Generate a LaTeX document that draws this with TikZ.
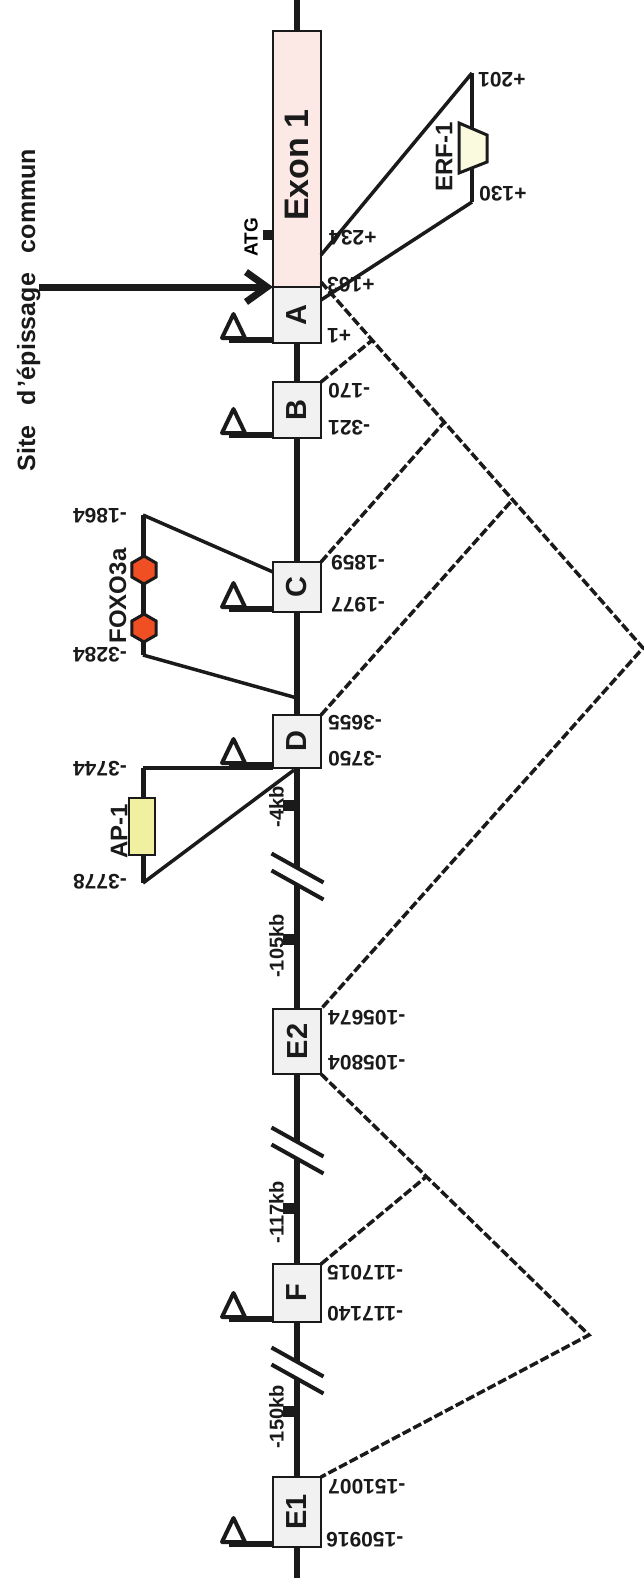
\documentclass[tikz,border=0pt]{standalone}
\usepackage{fontspec}
\setmainfont{Liberation Sans}
\usetikzlibrary{arrows.meta,calc}
\definecolor{ink}{HTML}{1A1A1A}
\definecolor{exonpink}{RGB}{252,233,229}
\definecolor{boxgray}{RGB}{241,241,241}
\definecolor{foxo}{RGB}{240,78,35}
\definecolor{apyellow}{RGB}{240,240,160}
\definecolor{erfyellow}{RGB}{250,250,222}
\newcommand{\tssflag}[1]{%
  \draw[flagline] ($(#1.south west)+(0,-3)$) -- ++(-44,0);
  \draw[flagtri] ($(#1.south west)+(-51,-5)$) -- ++(11.5,-24) -- ++(11.5,24) -- cycle;}
\begin{document}
\begin{tikzpicture}[x=1pt,y=-1pt,
  gene/.style={draw=ink, line width=6.5pt},
  slash/.style={draw=ink, line width=4pt},
  exonbox/.style={draw=ink, line width=2.5pt, fill=boxgray, minimum width=48pt, inner sep=0pt, outer sep=0pt},
  boxlabel/.style={rotate=90, font=\bfseries\fontsize{29}{29}\selectfont, text=ink, inner sep=0pt},
  poslabel/.style={rotate=180, font=\bfseries\fontsize{21}{21}\selectfont, text=ink, inner sep=0pt},
  kblabel/.style={rotate=90, anchor=south, font=\bfseries\fontsize{20}{20}\selectfont, text=ink, inner sep=0pt},
  tflabel/.style={rotate=90, font=\bfseries\fontsize{24}{24}\selectfont, text=ink, inner sep=0pt},
  splice/.style={draw=ink, line width=3.5pt, dash pattern=on 9pt off 3pt},
  tfline/.style={draw=ink, line width=3.5pt},
  bracket/.style={draw=ink, line width=5pt},
  flagline/.style={draw=ink, line width=6pt},
  flagtri/.style={draw=ink, line width=4pt, line join=round}
]
\useasboundingbox (0,0) rectangle (644,1588);

% main genomic line with breaks
\coordinate (top) at (297,0);
\coordinate (bot) at (297,1578);
\coordinate (b1a) at (297,868); \coordinate (b1b) at (297,885);
\coordinate (b2a) at (297,1142); \coordinate (b2b) at (297,1159);
\coordinate (b3a) at (297,1362); \coordinate (b3b) at (297,1379);
\draw[gene] (top) -- (b1a);
\draw[gene] (b1b) -- (b2a);
\draw[gene] (b2b) -- (b3a);
\draw[gene] (b3b) -- (bot);
\foreach \c in {868,885,1142,1159,1362,1379}
  \draw[slash] (271.5,\c-14.5) -- (323.5,\c+14.5);

% kb ticks
\foreach \y in {805,939,1208,1411}
  \fill[ink] (283,\y-5.5) rectangle (297,\y+5.5);
\node[kblabel] (kb4) at (284,807) {-4kb};
\node[kblabel] (kb105) at (284,946) {-105kb};
\node[kblabel] (kb117) at (284,1212) {-117kb};
\node[kblabel] (kb150) at (284,1417) {-150kb};

% exon boxes
\node[exonbox, fill=exonpink, minimum height=256pt] (Exon1) at (297,159) {};
\node[exonbox, minimum height=56pt] (A) at (297,315) {};
\node[exonbox, minimum height=56pt] (B) at (297,410) {};
\node[exonbox, minimum height=50pt] (C) at (297,587) {};
\node[exonbox, minimum height=53pt] (D) at (297,741.5) {};
\node[exonbox, minimum height=65pt] (E2) at (297,1041.5) {};
\node[exonbox, minimum height=58pt] (F) at (297,1293) {};
\node[exonbox, minimum height=70pt] (E1) at (297,1512) {};

\node[boxlabel, font=\bfseries\fontsize{34}{34}\selectfont] (tEx) at (297,165) {Exon 1};
\node[boxlabel] (tA) at (A) {A};
\node[boxlabel] (tB) at (B) {B};
\node[boxlabel] (tC) at (C) {C};
\node[boxlabel] (tD) at (D) {D};
\node[boxlabel] (tE2) at (E2) {E2};
\node[boxlabel] (tF) at (F) {F};
\node[boxlabel] (tE1) at (E1) {E1};

% ATG
\fill[ink] (263,230) rectangle (273,240);
\node[rotate=90, anchor=south, font=\bfseries\fontsize{19}{19}\selectfont, inner sep=0pt] (atg) at (258,237) {ATG};

% common splice site arrow
\coordinate (arrstart) at (39,287);
\draw[draw=ink, line width=7pt, -{Straight Barb[length=21pt,width=30pt]}] (arrstart) -- (A.north west);
\node[rotate=90, anchor=base, font=\bfseries\fontsize{25}{25}\selectfont, text=ink, inner sep=0pt] (site) at (35,310)
  {Site\hspace{20pt}d\hspace{3pt}’épissage\hspace{20pt}commun};

% splicing (dashed)
\coordinate (sA) at ($(A.north east)+(0,-5)$);
\coordinate (apex1) at (643,648);
\coordinate (apex2) at (589,1335);
\draw[splice] (sA) -- (apex1) -- (E2.north east);
\draw[splice] (B.north east) -- ($(sA)!0.159!(apex1)$);
\draw[splice] (C.north east) -- ($(sA)!0.383!(apex1)$);
\draw[splice] (D.north east) -- ($(sA)!0.595!(apex1)$);
\draw[splice] (E2.south east) -- (apex2) -- (E1.north east);
\draw[splice] (F.north east) -- ($(E2.south east)!0.393!(apex2)$);

% ERF-1
\coordinate (erfT) at (472,73);
\coordinate (erfB) at (472,202);
\draw[draw=ink, line width=4pt] (erfT) -- (erfB);
\draw[tfline] (erfT) -- ($(Exon1.south east)+(0,-32)$);
\draw[tfline] (erfB) -- ($(A.north east)+(0,13)$);
\draw[draw=ink, line width=3pt, fill=erfyellow, line join=miter] (459,123) -- (487,135) -- (487,162) -- (459,173) -- cycle;
\node[tflabel] (erf) at (444,157) {ERF-1};
\node[poslabel, anchor=east] (p201) at (478,80) {+201};
\node[poslabel, anchor=east] (p130) at (479,194) {+130};

% FOXO3a
\coordinate (foxT) at (143,515);
\coordinate (foxB) at (143,655);
\coordinate (foxM) at (297,698);
\draw[bracket] (foxT) -- (foxB);
\draw[tfline] (foxT) -- ($(C.north west)+(0,10)$);
\draw[tfline] (foxB) -- (foxM);
\foreach \y in {570,628}
  \draw[draw=ink, line width=3pt, fill=foxo] (144,\y) +(90:14) -- +(30:14) -- +(-30:14) -- +(-90:14) -- +(-150:14) -- +(150:14) -- cycle;
\node[tflabel] (foxo) at (118,596) {FOXO3a};
\node[poslabel, anchor=west] (m1864) at (127,516) {-1864};
\node[poslabel, anchor=west] (m3284) at (127,655) {-3284};

% AP-1
\coordinate (apT) at (143,768);
\coordinate (apB) at (143,883);
\draw[bracket] (apT) -- (apB);
\draw[draw=ink, line width=4pt] (apT) -- (D.south west);
\draw[tfline] (apB) -- ($(D.south)+(-3,2)$);
\node[draw=ink, line width=2.5pt, fill=apyellow, minimum width=26pt, minimum height=57pt, inner sep=0pt] (ap1box) at (142,826.5) {};
\node[tflabel] (ap1) at (119,831) {AP-1};
\node[poslabel, anchor=west] (m3744) at (127,769) {-3744};
\node[poslabel, anchor=west] (m3778) at (127,882) {-3778};

% promoter flags
\tssflag{A}
\tssflag{B}
\tssflag{C}
\tssflag{D}
\tssflag{F}
\tssflag{E1}

% position labels (right)
\node[poslabel, anchor=east] (p234) at (329,238) {+234};
\node[poslabel, anchor=east] (p163) at (327,285) {+163};
\node[poslabel, anchor=east] (p1) at (327,336) {+1};
\node[poslabel, anchor=east] (m170) at (328,391) {-170};
\node[poslabel, anchor=east] (m321) at (328,428) {-321};
\node[poslabel, anchor=east] (m1859) at (331,563) {-1859};
\node[poslabel, anchor=east] (m1977) at (331,605) {-1977};
\node[poslabel, anchor=east] (m3655) at (328,723) {-3655};
\node[poslabel, anchor=east] (m3750) at (328,759) {-3750};
\node[poslabel, anchor=east] (m105674) at (328,1018) {-105674};
\node[poslabel, anchor=east] (m105804) at (328,1063) {-105804};
\node[poslabel, anchor=east] (m117015) at (327,1273) {-117015};
\node[poslabel, anchor=east] (m117140) at (327,1314) {-117140};
\node[poslabel, anchor=east] (m151007) at (328,1487) {-151007};
\node[poslabel, anchor=east] (m150916) at (326,1540) {-150916};
\end{tikzpicture}
\end{document}
